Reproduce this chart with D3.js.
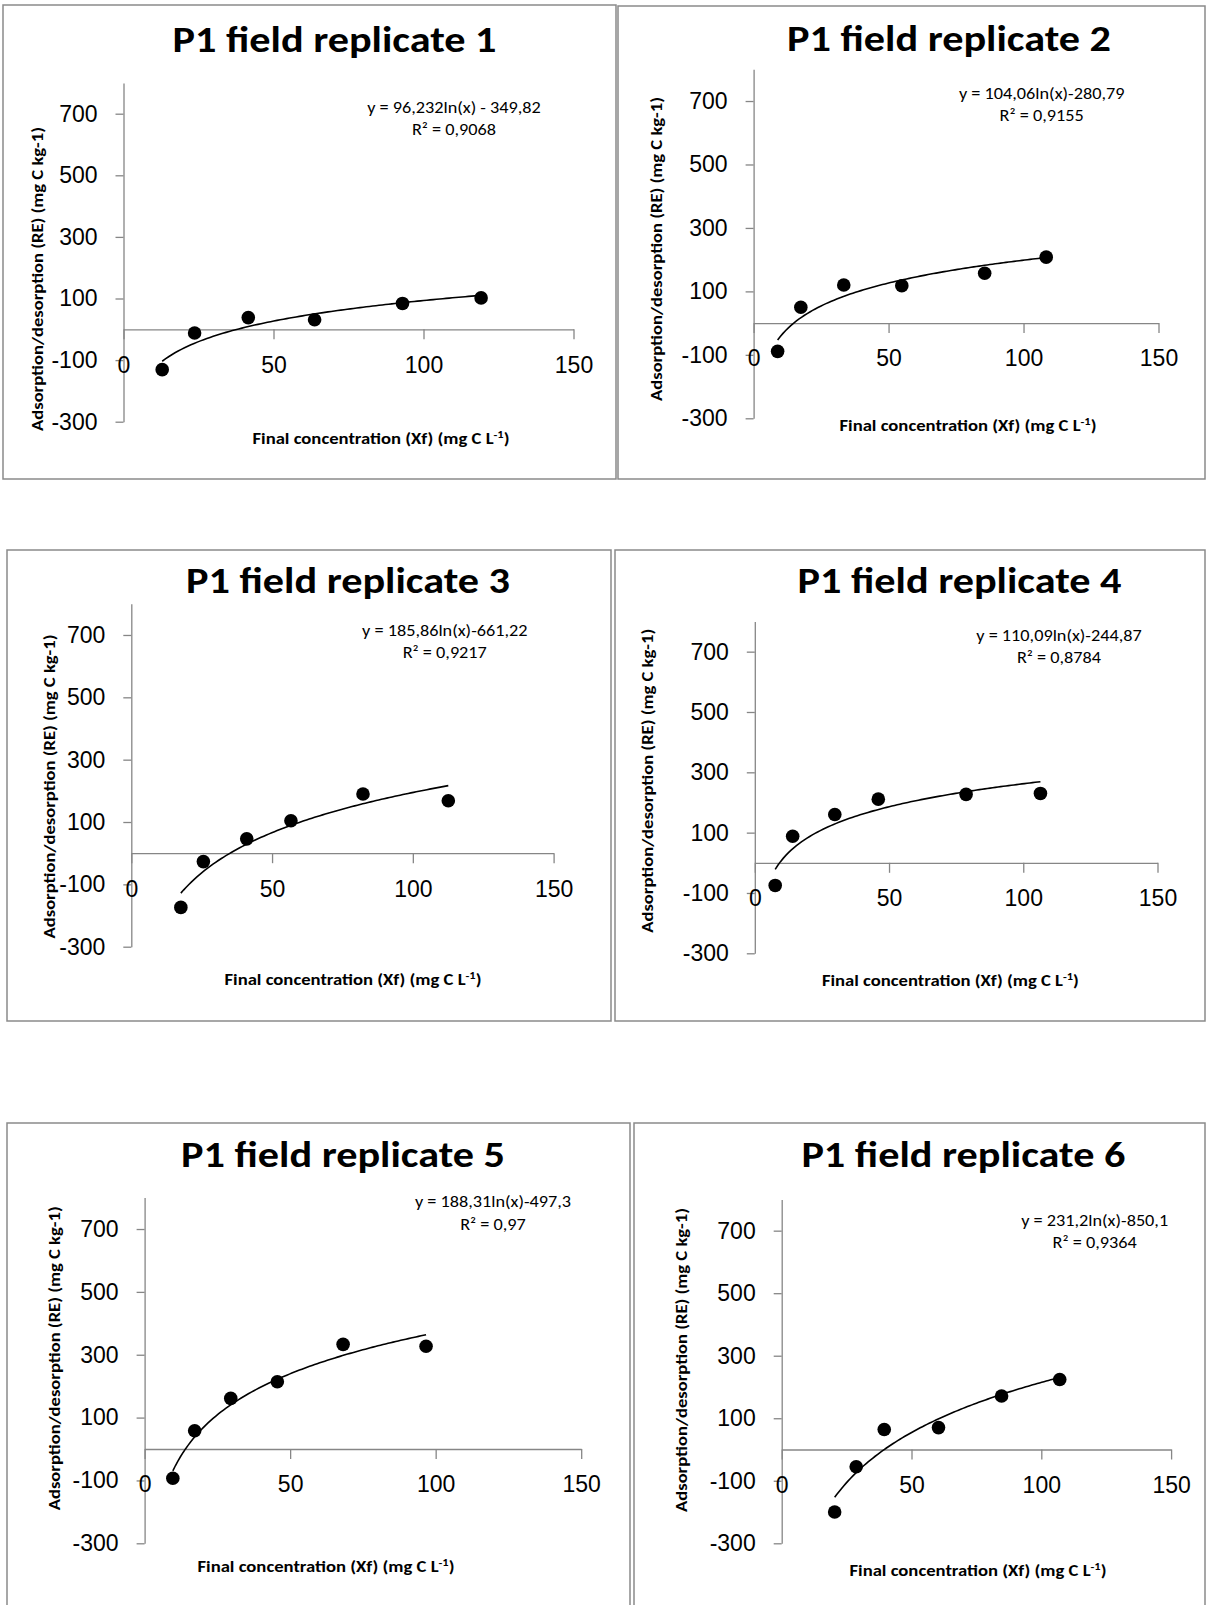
<!DOCTYPE html>
<html lang="en">
<head>
    <meta charset="UTF-8">
    <title>P1 field replicates</title>
    <style>
        body { margin: 0; background: #fff; }
        #grafico { display: block; font-family: Carlito, Calibri, Lato, sans-serif; }
        .moldura { fill: none; stroke: #8a8a8a; stroke-width: 1.5; }
        .eixo path, .eixo line { stroke: #868686; stroke-width: 1.3; }
        .eixo text { font-size: 23px; fill: #000; }
        .titulo { font-size: 36px; font-weight: bold; text-anchor: middle; }
        .equacao { font-size: 16px; text-anchor: middle; }
        .rotulo { font-size: 15px; font-weight: bold; text-anchor: middle; }
        .ponto { fill: #000; }
        .tendencia { fill: none; stroke: #000; stroke-width: 1.6; }
    </style>
    <script src="https://d3js.org/d3.v7.min.js"></script>
</head>
<body>
<svg id="grafico" width="1206" height="1605"></svg>
<script>
    // titulos e textos
    const titulos = ['P1 field replicate 1', 'P1 field replicate 2', 'P1 field replicate 3',
                     'P1 field replicate 4', 'P1 field replicate 5', 'P1 field replicate 6'];
    const equacoes = ['y = 96,232ln(x) - 349,82', 'y = 104,06ln(x)-280,79', 'y = 185,86ln(x)-661,22',
                      'y = 110,09ln(x)-244,87', 'y = 188,31ln(x)-497,3', 'y = 231,2ln(x)-850,1'];
    const r2 = ['R² = 0,9068', 'R² = 0,9155', 'R² = 0,9217', 'R² = 0,8784', 'R² = 0,97', 'R² = 0,9364'];

    // coeficientes da linha de tendencia y = a ln(x) + b
    const coefA = [96.232, 104.06, 185.86, 110.09, 188.31, 231.2];
    const coefB = [-349.82, -280.79, -661.22, -244.87, -497.3, -850.1];

    // dados (Xf, RE)
    const rep1X = [12.9, 23.7, 41.6, 63.7, 93.0, 119.2];
    const rep1Y = [-131, -12, 38, 31, 84, 102];
    const rep2X = [8.9, 17.5, 33.4, 54.9, 85.6, 108.4];
    const rep2Y = [-89, 50, 120, 118, 157, 208];
    const rep3X = [17.6, 25.6, 41.0, 56.7, 82.3, 112.6];
    const rep3Y = [-174, -27, 46, 104, 190, 168];
    const rep4X = [7.6, 14.1, 29.8, 46.0, 78.7, 106.4];
    const rep4Y = [-75, 88, 160, 211, 227, 230];
    const rep5X = [9.7, 17.2, 29.6, 45.6, 68.2, 96.7];
    const rep5Y = [-93, 58, 161, 214, 333, 327];
    const rep6X = [20.4, 28.7, 39.5, 60.4, 84.7, 107.1];
    const rep6Y = [-200, -55, 64, 70, 171, 224];

    const ticksX = [0, 50, 100, 150];
    const ticksY = [-300, -100, 100, 300, 500, 700];
    const dominioX = [0, 150];
    const dominioY = [-300, 800];

    const rotuloY = 'Adsorption/desorption (RE) (mg C kg-1)';

    // posicao de cada quadro na pagina
    const quadros = [
        { caixa: [3, 5, 616, 479], x0: 123.5, x1: 573.5, yb: 421.7, yt: 82.9, tx: 334.5, ty: 51.7, ex: 454, ey: 112.7, lx: 37.6, ly: 279, bx: 381, by: 443.5 },
        { caixa: [618, 6, 1205, 479], x0: 753.6, x1: 1158.5, yb: 418.3, yt: 69.3, tx: 949, ty: 50.7, ex: 1041.7, ey: 98.8, lx: 656.5, ly: 249, bx: 968, by: 431 },
        { caixa: [7, 550, 611, 1021], x0: 131.3, x1: 553.6, yb: 946.7, yt: 603.8, tx: 348, ty: 593.3, ex: 444.8, ey: 635.5, lx: 49.4, ly: 786.5, bx: 353, by: 985 },
        { caixa: [615, 550, 1205, 1021], x0: 754.8, x1: 1157.5, yb: 953.3, yt: 621.5, tx: 959.5, ty: 593.3, ex: 1059, ey: 640.5, lx: 648, ly: 780.8, bx: 950.4, by: 986 },
        { caixa: [7, 1123, 630, 1610], x0: 144.6, x1: 581.2, yb: 1543.3, yt: 1197.6, tx: 343, ty: 1167.3, ex: 493, ey: 1207.2, lx: 54.7, ly: 1358.3, bx: 326, by: 1571.5 },
        { caixa: [634, 1123, 1205, 1610], x0: 781.7, x1: 1171.1, yb: 1543.3, yt: 1199.4, tx: 963.4, ty: 1167, ex: 1094.7, ey: 1225.5, lx: 681.4, ly: 1360, bx: 978, by: 1576 }
    ];

    const dadosX = [rep1X, rep2X, rep3X, rep4X, rep5X, rep6X];
    const dadosY = [rep1Y, rep2Y, rep3Y, rep4Y, rep5Y, rep6Y];

    const svg = d3.select('#grafico');

    // o texto original (Calibri) esta esticado na horizontal
    const esticar = function () {
        const w = this.getComputedTextLength();
        d3.select(this)
            .attr('textLength', w * 1.14)
            .attr('lengthAdjust', 'spacingAndGlyphs');
    };

    quadros.forEach((q, i) => {
        const g = svg.append('g');

        g.append('rect')
            .classed('moldura', true)
            .attr('x', q.caixa[0])
            .attr('y', q.caixa[1])
            .attr('width', q.caixa[2] - q.caixa[0])
            .attr('height', q.caixa[3] - q.caixa[1]);

        const fnX = d3.scaleLinear().domain(dominioX).range([q.x0, q.x1]);
        const fnY = d3.scaleLinear().domain(dominioY).range([q.yb, q.yt]);

        // eixo Y
        g.append('g')
            .classed('eixo', true)
            .attr('transform', `translate(${q.x0},0)`)
            .call(d3.axisLeft(fnY).tickValues(ticksY).tickSize(8).tickSizeOuter(0).tickPadding(18)
                .tickFormat(d => String(d)));

        // eixo X na linha do zero
        g.append('g')
            .classed('eixo', true)
            .attr('transform', `translate(0,${fnY(0)})`)
            .call(d3.axisBottom(fnX).tickValues(ticksX).tickSize(10).tickSizeOuter(0).tickPadding(17)
                .tickFormat(d => String(d)));

        // titulo
        g.append('text')
            .classed('titulo', true)
            .attr('x', q.tx)
            .attr('y', q.ty)
            .attr('textLength', 324)
            .attr('lengthAdjust', 'spacingAndGlyphs')
            .text(titulos[i]);

        // rotulo Y
        g.append('text')
            .classed('rotulo', true)
            .attr('transform', `translate(${q.lx},${q.ly}) rotate(-90)`)
            .attr('dy', '0.35em')
            .attr('textLength', 304)
            .attr('lengthAdjust', 'spacingAndGlyphs')
            .text(rotuloY);

        // rotulo X com sobrescrito
        const rx = g.append('text')
            .classed('rotulo', true)
            .attr('x', q.bx)
            .attr('y', q.by)
            .attr('textLength', 257)
            .attr('lengthAdjust', 'spacingAndGlyphs');
        rx.append('tspan').text('Final concentration (Xf) (mg C L');
        rx.append('tspan').attr('dy', -6).style('font-size', '10px').text('-1');
        rx.append('tspan').attr('dy', 6).text(')');

        // equacao da tendencia
        g.append('text')
            .classed('equacao', true)
            .attr('x', q.ex)
            .attr('y', q.ey)
            .text(equacoes[i])
            .each(esticar);
        g.append('text')
            .classed('equacao', true)
            .attr('x', q.ex)
            .attr('y', q.ey + 22.5)
            .text(r2[i])
            .each(esticar);

        // linha de tendencia logaritmica
        const xs = dadosX[i];
        const amostra = d3.range(0, 101).map(k => xs[0] + (xs[xs.length - 1] - xs[0]) * k / 100);
        const linha = d3.line()
            .x(d => fnX(d))
            .y(d => fnY(coefA[i] * Math.log(d) + coefB[i]));
        g.append('path')
            .classed('tendencia', true)
            .attr('d', linha(amostra));

        // pontos
        g.selectAll('.ponto')
            .data(xs)
            .enter()
            .append('circle')
            .classed('ponto', true)
            .attr('cx', d => fnX(d))
            .attr('cy', (d, j) => fnY(dadosY[i][j]))
            .attr('r', 6.8);
    });
</script>
</body>
</html>
